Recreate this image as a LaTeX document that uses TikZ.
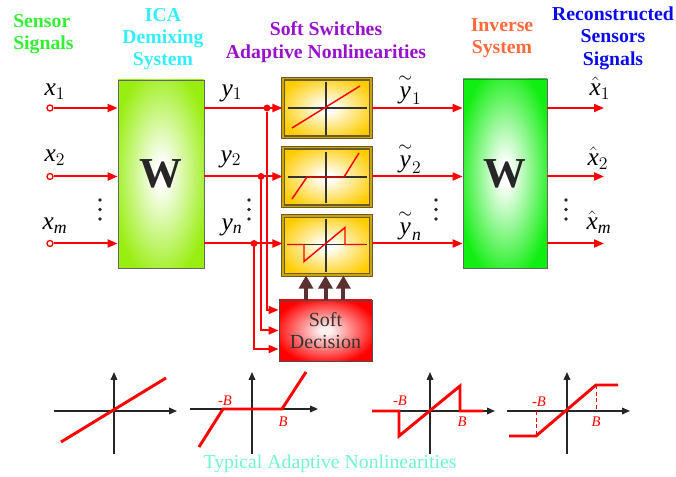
\documentclass[tikz,border=0pt]{standalone}
\usepackage{fix-cm}
\usepackage{amsmath}
\usepackage{fontspec}
\setmainfont{Liberation Serif}
\usetikzlibrary{arrows.meta,positioning}

\definecolor{sensorgreen}{HTML}{33EE33}
\definecolor{icacyan}{HTML}{33EEFF}
\definecolor{switchpurple}{HTML}{9911CC}
\definecolor{inverseorange}{HTML}{FF6A3D}
\definecolor{reconblue}{HTML}{0A0AF0}
\definecolor{capaqua}{HTML}{70F5D0}
\definecolor{ctrlbrown}{HTML}{5C3030}
\definecolor{swedge}{HTML}{6B5A2A}
\definecolor{swgold}{HTML}{FFCC00}
\definecolor{demixout}{HTML}{99EE11}
\definecolor{invout}{HTML}{11EE11}
\definecolor{decred}{HTML}{FF0000}
\definecolor{glowpink}{HTML}{FFF0F0}

% soft glows for the blocks
\pgfdeclareradialshading{demixglow}{\pgfpoint{0bp}{0bp}}{color(0bp)=(white); color(3bp)=(white);
  color(29bp)=(demixout); color(50bp)=(demixout)}
\pgfdeclareradialshading{invglow}{\pgfpoint{0bp}{0bp}}{color(0bp)=(white); color(3bp)=(white);
  color(29bp)=(invout); color(50bp)=(invout)}
\pgfdeclareradialshading{swglow}{\pgfpoint{0bp}{0bp}}{color(0bp)=(white); color(3bp)=(white);
  color(29bp)=(swgold); color(50bp)=(swgold)}
\pgfdeclareradialshading{decglow}{\pgfpoint{0bp}{0bp}}{color(0bp)=(glowpink); color(3bp)=(glowpink);
  color(28bp)=(decred); color(50bp)=(decred)}

\newcommand{\wtil}[1]{\overset{\sim}{#1}}

\begin{document}
\begin{tikzpicture}[x=0.75pt,y=-0.75pt,
  every node/.style={inner sep=0pt},
  heading/.style={font=\fontsize{14.8}{16.8}\selectfont\bfseries,align=center},
  lbl/.style={font=\fontsize{19}{22}\selectfont},
  blab/.style={font=\fontsize{11}{12}\selectfont\itshape,text=red},
  sig/.style={red,line width=1.5pt,-{Triangle[length=7.5pt,width=6pt]}},
  ctrl/.style={ctrlbrown,line width=3pt,-{Triangle[length=10pt,width=10.5pt]}},
  port/.style={circle,draw=red,line width=1pt,fill=white,minimum size=4.5pt},
  dot/.style={circle,fill=red,minimum size=5.2pt},
  demix/.style={draw=black!60,line width=0.6pt,minimum width=64.5pt,minimum height=141pt,
    shading=demixglow,shade,font=\fontsize{32}{32}\selectfont\bfseries,text=black!85},
  inverse/.style={draw=black!60,line width=0.6pt,minimum width=63pt,minimum height=141.75pt,
    shading=invglow,shade,font=\fontsize{32}{32}\selectfont\bfseries,text=black!85},
  switchbox/.style={draw=swedge,double=swgold!80!black,double distance=1.2pt,line width=0.8pt,
    minimum width=66pt,minimum height=44pt,shading=swglow,shade},
  decision/.style={draw=black!70,line width=0.7pt,minimum width=69.75pt,minimum height=45.75pt,
    shading=decglow,shade,align=center,font=\fontsize{15}{16.5}\selectfont,text=black!80},
  axis/.style={black!85,line width=1.1pt,-{Triangle[length=6pt,width=5pt]}},
  curve/.style={red,line width=2.2pt},
  inaxis/.style={black!80,line width=1pt},
  incurve/.style={red,line width=1.1pt}]
  \path[use as bounding box] (0,0) rectangle (676,477);

  % Headings.
  \node[heading,text=sensorgreen,align=left,anchor=west] (hsens) at (13,34) {Sensor\\Signals};
  \node[heading,text=icacyan] (hica) at (163,39) {ICA\\Demixing\\System};
  \node[heading,text=switchpurple] (hsw) at (326,42) {Soft Switches\\Adaptive Nonlinearities};
  \node[heading,text=inverseorange] (hinv) at (502,38) {Inverse\\System};
  \node[heading,text=reconblue] (hrec) at (613,38) {Reconstructed\\Sensors\\Signals};

  % Blocks.
  \node[demix] (Wd) at (161,174) {W};
  \node[inverse] (Wi) at (505,173.5) {W};
  \node[switchbox] (s1) at (327,108) {};
  \node[switchbox] (s2) at (327,177) {};
  \node[switchbox] (s3) at (327,245.5) {};
  \node[decision] (dec) at (325.5,330.5) {Soft\\Decision};

  % Inputs.
  \node[port] (in1) at (50,108) {};
  \node[port] (in2) at (50,176.5) {};
  \node[port] (inm) at (50,243.5) {};
  \draw[sig] (in1) -- (in1 -| Wd.west);
  \draw[sig] (in2) -- (in2 -| Wd.west);
  \draw[sig] (inm) -- (inm -| Wd.west);
  \node[lbl] (lx1) at (55,92) {$\mathit{x}_1$};
  \node[lbl] (lx2) at (55,158) {$\mathit{x}_2$};
  \node[lbl] (lxm) at (55,226) {$\mathit{x}_{\mathit{m}}$};

  % Demixed outputs and branch points.
  \node[dot] (j1) at (267,108) {};
  \node[dot] (j2) at (261,176.5) {};
  \node[dot] (jn) at (254,243.5) {};
  \draw[sig] (Wd.east |- j1) -- (j1 -| s1.west);
  \draw[sig] (Wd.east |- j2) -- (j2 -| s2.west);
  \draw[sig] (Wd.east |- jn) -- (jn -| s3.west);
  \node[lbl] (ly1) at (232,93) {$\mathit{y}_1$};
  \node[lbl] (ly2) at (231,159) {$\mathit{y}_2$};
  \node[lbl] (lyn) at (232,227) {$\mathit{y}_{\mathit{n}}$};

  % Feedback into the decision block.
  \draw[sig] (j1) |- ([yshift=15.4pt]dec.west);
  \draw[sig] (j2) |- (dec.west);
  \draw[sig] (jn) |- ([yshift=-13.9pt]dec.west);
  \foreach \dx in {-14.6pt,0pt,13.4pt}
    \draw[ctrl] ([xshift=\dx]dec.north) -- ([xshift=\dx]dec.north |- s3.south);

  % Switch outputs and reconstructed signals.
  \coordinate (o1) at (604,108);
  \coordinate (o2) at (604,176.5);
  \coordinate (om) at (604,243.5);
  \draw[sig] (j1 -| s1.east) -- (j1 -| Wi.west);
  \draw[sig] (j2 -| s2.east) -- (j2 -| Wi.west);
  \draw[sig] (jn -| s3.east) -- (jn -| Wi.west);
  \draw[sig] (Wi.east |- o1) -- (o1);
  \draw[sig] (Wi.east |- o2) -- (o2);
  \draw[sig] (Wi.east |- om) -- (om);
  \node[lbl] (lt1) at (410,89) {$\wtil{\mathit{y}}_1$};
  \node[lbl] (lt2) at (410,158) {$\wtil{\mathit{y}}_2$};
  \node[lbl] (ltn) at (410,225) {$\wtil{\mathit{y}}_{\mathit{n}}$};
  \node[lbl] (lh1) at (600,88) {$\hat{\mathit{x}}_1$};
  \node[lbl] (lh2) at (598,158) {$\hat{\mathit{x}}_2$};
  \node[lbl] (lhm) at (599,222) {$\hat{\mathit{x}}_{\mathit{m}}$};

  % Vertical ellipses.
  \foreach \px in {100,249,436,566}
    \foreach \py in {200,209.5,219}
      \fill[black!85] (\px,\py) circle (1.4pt);

  % Characteristic inside each switch.
  \begin{scope}[shift={(s1.center)}]
    \draw[inaxis] (-39,0) -- (40,0);
    \draw[inaxis] (-1,-26) -- (-1,27);
    \draw[incurve] (-35,20) -- (33,-22);
  \end{scope}
  \begin{scope}[shift={(s2.center)}]
    \draw[inaxis] (-39,0) -- (40,0);
    \draw[inaxis] (-1,-25) -- (-1,26);
    \draw[incurve] (-35,22) -- (-20,0) -- (17,0) -- (32,-24);
  \end{scope}
  \begin{scope}[shift={(s3.center)}]
    \draw[inaxis] (-39,-1) -- (40,-1);
    \draw[inaxis] (-1,-26) -- (-1,27);
    \draw[incurve] (-40,-1) -- (-23,-1) -- (-23,16) -- (18,-18) -- (18,-1) -- (38,-1);
  \end{scope}

  % Typical nonlinearities.
  \draw[axis] (54,411) -- (177,411);
  \draw[axis] (114,454) -- (114,372);
  \draw[curve] (61,442) -- (166,378);

  \draw[axis] (190,409) -- (318,409);
  \draw[axis] (252,454) -- (252,372);
  \draw[curve] (199,447) -- (223,409) -- (282,409) -- (306,372);
  \node[blab] (b2m) at (225,401) {-B};
  \node[blab] (b2p) at (283,422) {B};

  \draw[axis] (372,411) -- (495,411);
  \draw[axis] (430,454) -- (430,372);
  \draw[curve] (372,411) -- (399,411) -- (399,436) -- (460,386) -- (460,411) -- (483,411);
  \node[blab] (b3m) at (400,401) {-B};
  \node[blab] (b3p) at (462,422) {B};

  \draw[axis] (507,411) -- (630,411);
  \draw[axis] (567,454) -- (567,372);
  \draw[red,densely dashed,line width=0.6pt] (536,411) -- (536,436);
  \draw[red,densely dashed,line width=0.6pt] (596,385) -- (596,411);
  \draw[curve] (509,436) -- (536,436) -- (596,385) -- (618,385);
  \node[blab] (b4m) at (539,402) {-B};
  \node[blab] (b4p) at (596,422) {B};

  \node[font=\fontsize{14.8}{17}\selectfont,text=capaqua] (cap) at (330,464)
    {Typical Adaptive Nonlinearities};
\end{tikzpicture}
\end{document}
